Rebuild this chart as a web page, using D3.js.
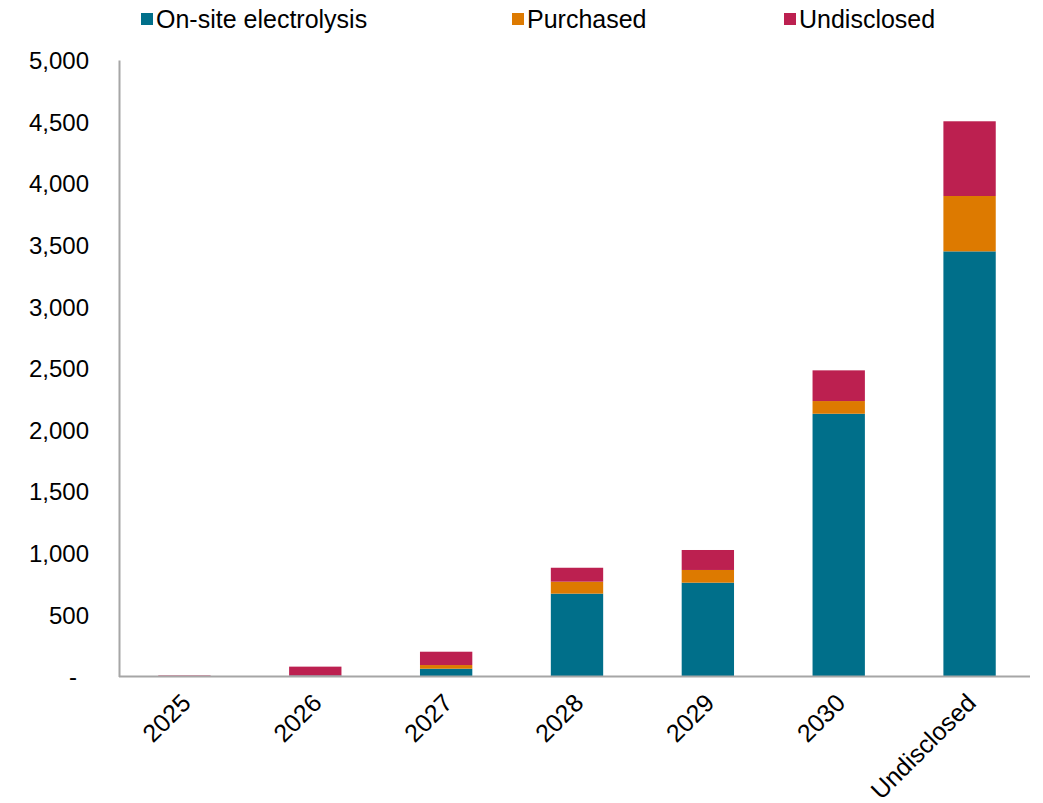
<!DOCTYPE html>
<html lang="en">
<head>
<meta charset="UTF-8">
<title>Hydrogen supply by year</title>
<script src="https://d3js.org/d3.v7.min.js"></script>
<style>
body { margin: 0; background: #fff; }
text { font-family: "Liberation Sans", Arial, sans-serif; fill: #000; }
</style>
</head>
<body>
<div id="container"></div>
<script>
// data
const categories = ["2025", "2026", "2027", "2028", "2029", "2030", "Undisclosed"];
const seriesNames = ["On-site electrolysis", "Purchased", "Undisclosed"];
const onsite = [0, 8, 63, 672, 761, 2131, 3448];
const purchased = [0, 0, 30, 97, 103, 103, 449];
const undisclosed = [8, 72, 108, 113, 162, 249, 606];
const yTicks = [0, 500, 1000, 1500, 2000, 2500, 3000, 3500, 4000, 4500, 5000];
const colors = ["#006f8a", "#dd7a00", "#bc2050"];

const width = 1043, height = 803;
const margin = { top: 60, right: 13, bottom: 127, left: 119 };

const svg = d3.select("#container").append("svg")
  .attr("width", width).attr("height", height);

const rows = categories.map((c, i) => ({
  cat: c,
  "On-site electrolysis": onsite[i],
  "Purchased": purchased[i],
  "Undisclosed": undisclosed[i]
}));
const stacked = d3.stack().keys(seriesNames)(rows);

const x = d3.scaleBand().domain(categories)
  .range([margin.left, width - 8]).paddingInner(0.6).paddingOuter(0.3);
const y = d3.scaleLinear().domain([0, 5000])
  .range([height - margin.bottom + 0.5, margin.top]);

// bars
svg.append("g").selectAll("g")
  .data(stacked)
  .join("g")
  .attr("fill", (d, i) => colors[i])
  .selectAll("rect")
  .data(d => d)
  .join("rect")
  .attr("x", d => x(d.data.cat))
  .attr("width", x.bandwidth())
  .attr("y", d => y(d[1]))
  .attr("height", d => Math.max(0, y(d[0]) - y(d[1])));

// y axis
const yAxis = svg.append("g")
  .attr("transform", `translate(${margin.left},0)`)
  .call(d3.axisLeft(y).tickValues(yTicks).tickSize(0).tickPadding(30)
    .tickFormat(v => v === 0 ? "-" : d3.format(",")(v)));
yAxis.select(".domain").attr("stroke", "#a6a6a6").attr("stroke-width", 2);
yAxis.selectAll("text").style("font-size", "24px").attr("dy", "0.35em");
// the zero dash sits a bit left, as in the accounting number format
yAxis.selectAll(".tick").filter(d => d === 0).select("text").attr("x", -42);

// x axis
const xAxis = svg.append("g")
  .attr("transform", `translate(0,${y(0)})`)
  .call(d3.axisBottom(x).tickSize(0).tickSizeOuter(0));
xAxis.select(".domain").attr("stroke", "#a6a6a6").attr("stroke-width", 2)
  .attr("d", `M${margin.left},0H${width - margin.right}`);
xAxis.selectAll("text")
  .style("font-size", "25px")
  .attr("text-anchor", "end")
  .attr("dy", null)
  .attr("y", 0)
  .attr("transform", "translate(8,28) rotate(-45)");

// legend
const legendX = [141, 512, 784];
const legend = svg.append("g").selectAll("g")
  .data(seriesNames)
  .join("g")
  .attr("transform", (d, i) => `translate(${legendX[i]},13)`);
legend.append("rect").attr("width", 12).attr("height", 12)
  .attr("fill", (d, i) => colors[i]);
legend.append("text").attr("x", 15).attr("y", 6).attr("dy", "0.35em")
  .style("font-size", "25px").text(d => d);
</script>
</body>
</html>
